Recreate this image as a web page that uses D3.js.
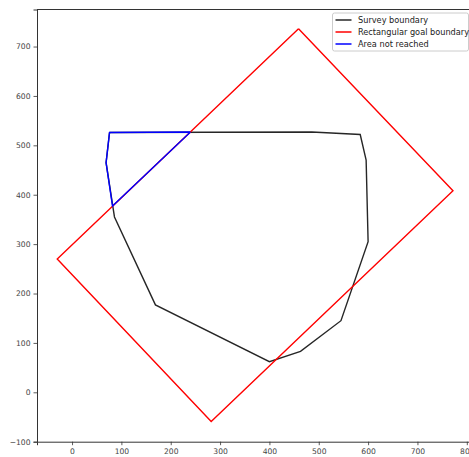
<!DOCTYPE html>
<html>
<head>
<meta charset="utf-8">
<script src="https://cdn.jsdelivr.net/npm/d3@7"></script>
<style>
  html, body { margin: 0; padding: 0; background: #fff; }
  svg { display: block; font-family: "DejaVu Sans", sans-serif; }
</style>
</head>
<body>
<svg id="chart" width="469" height="457"></svg>
<script>
// Survey boundary polygon (closed)
const surveyX = [76, 486, 584, 596, 600, 545, 463, 400, 169, 86, 69, 76];
const surveyY = [526, 527, 522, 470, 305, 145, 83, 62, 177, 355, 465, 526];

// Rotated rectangular goal boundary (closed)
const goalX = [459, 772, 282, -30, 459];
const goalY = [736, 408, -59, 270, 736];

// Part of the survey area lying outside the goal rectangle (closed)
const missedX = [240, 76, 69, 82, 240];
const missedY = [527, 526, 465, 377, 527];

const xTicks = [0, 100, 200, 300, 400, 500, 600, 700, 800];
const yTicks = [-100, 0, 100, 200, 300, 400, 500, 600, 700];

const legendLabels = ["Survey boundary", "Rectangular goal boundary", "Area not reached"];
const seriesColors = ["#000000", "#ff0000", "#0000ff"];

const svg = d3.select("#chart");

const x = d3.scaleLinear().domain([-71, 815]).range([37, 474.2]);
const y = d3.scaleLinear().domain([-100, 775]).range([441.7, 9.5]);

const toPoints = (xs, ys) => xs.map((v, i) => [v, ys[i]]);
const line = d3.line().x(d => x(d[0])).y(d => y(d[1]));

const series = [
  toPoints(surveyX, surveyY),
  toPoints(goalX, goalY),
  toPoints(missedX, missedY)
];

const plot = svg.append("g");
series.forEach((pts, i) => {
  plot.append("path")
    .attr("d", line(pts))
    .attr("fill", "none")
    .attr("stroke", seriesColors[i])
    .attr("stroke-width", 1.4)
    .attr("stroke-linejoin", "miter")
    .attr("stroke-opacity", i === 0 ? 0.85 : 1);
});

// Axes
const xAxis = d3.axisBottom(x).tickValues(xTicks).tickSize(3.5).tickPadding(3);
const yAxis = d3.axisLeft(y).tickValues(yTicks).tickSize(3.5).tickPadding(3)
  .tickFormat(d => d < 0 ? "\u2212" + Math.abs(d) : d);

const gx = svg.append("g").attr("transform", `translate(0,${y(-100)})`).call(xAxis);
const gy = svg.append("g").attr("transform", `translate(${x(-71)},0)`).call(yAxis);
[gx, gy].forEach(g => {
  g.select(".domain").attr("stroke", "#333").attr("stroke-width", 1);
  g.selectAll(".tick line").attr("stroke", "#333").attr("stroke-width", 0.8);
  g.selectAll(".tick text").attr("fill", "#444").attr("font-size", 7.6)
    .attr("font-family", "DejaVu Sans, sans-serif");
});

// Top spine
svg.append("line")
  .attr("x1", x(-71)).attr("x2", 474)
  .attr("y1", y(775)).attr("y2", y(775))
  .attr("stroke", "#333").attr("stroke-width", 1);

// Legend
const lg = svg.append("g").attr("transform", "translate(332.5,13)");
lg.append("rect")
  .attr("width", 136).attr("height", 38)
  .attr("rx", 2).attr("ry", 2)
  .attr("fill", "#fff").attr("fill-opacity", 0.8)
  .attr("stroke", "#ccc").attr("stroke-width", 1);
legendLabels.forEach((lab, i) => {
  const cy = 7 + i * 12;
  lg.append("line")
    .attr("x1", 3).attr("x2", 19)
    .attr("y1", cy).attr("y2", cy)
    .attr("stroke", seriesColors[i]).attr("stroke-width", 1.5)
    .attr("stroke-opacity", i === 0 ? 0.85 : 1);
  lg.append("text")
    .attr("x", 25.5).attr("y", cy)
    .attr("dy", "0.35em")
    .attr("font-size", 8.2)
    .attr("fill", "#222")
    .text(lab);
});
</script>
</body>
</html>
